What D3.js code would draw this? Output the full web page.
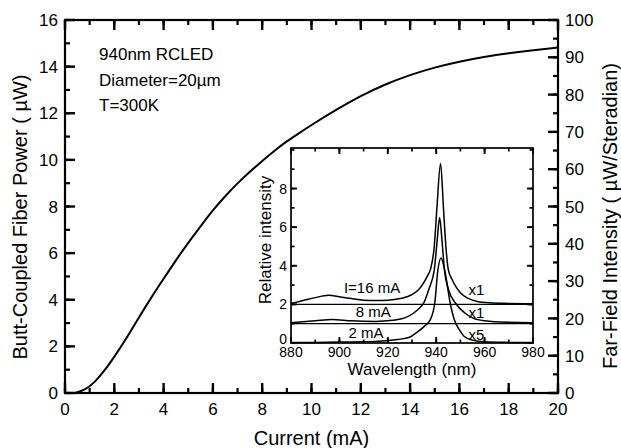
<!DOCTYPE html>
<html>
<head>
<meta charset="utf-8">
<script src="https://cdn.jsdelivr.net/npm/d3@7/dist/d3.min.js"></script>
<style>
  html, body { margin: 0; padding: 0; background: #fff; }
  svg text { font-family: "Liberation Sans", Arial, sans-serif; fill: #000; }
</style>
</head>
<body>
<svg id="chart" width="621" height="448"></svg>
<script>
// ---------- Data ----------
const currentMA = [0.4, 0.8, 1.2, 1.6, 2, 2.5, 3, 3.5, 4, 4.5, 5, 5.5, 6, 6.5, 7, 7.5, 8, 8.5, 9, 9.5, 10, 11, 12, 13, 14, 15, 16, 17, 18, 19, 20];
const powerUW   = [0, 0.12, 0.45, 0.95, 1.55, 2.35, 3.25, 4.1, 4.9, 5.7, 6.45, 7.15, 7.85, 8.45, 9.0, 9.5, 9.95, 10.4, 10.8, 11.15, 11.5, 12.15, 12.75, 13.25, 13.65, 13.97, 14.22, 14.42, 14.58, 14.71, 14.82];

const xTicks = [0, 2, 4, 6, 8, 10, 12, 14, 16, 18, 20];
const yLeftTicks = [0, 2, 4, 6, 8, 10, 12, 14, 16];
const yRightTicks = [0, 10, 20, 30, 40, 50, 60, 70, 80, 90, 100];

// Inset spectra (relative intensity, offset baselines included)
const wl16 = [880, 885, 890, 895.5, 900, 905, 910, 915, 920, 925, 930, 933, 935, 936.5, 937.6, 939.2, 940.3, 941.8, 943, 944, 945, 946.5, 948, 950, 953, 957, 962, 970, 980];
const v16  = [2.05, 2.2, 2.35, 2.47, 2.4, 2.3, 2.22, 2.2, 2.22, 2.3, 2.5, 2.8, 3.15, 3.5, 3.8, 5.0, 7.0, 9.3, 7.0, 5.0, 3.8, 3.3, 2.95, 2.6, 2.32, 2.15, 2.08, 2.05, 2.03];
const wl8  = [880, 890, 897, 905, 915, 922, 927, 930.6, 933, 934.8, 937, 939.2, 940.4, 941.4, 942.4, 943.4, 945, 948, 952, 955, 960, 970, 980];
const v8   = [1.05, 1.15, 1.22, 1.15, 1.12, 1.18, 1.3, 1.54, 1.8, 2.06, 2.8, 3.78, 5.3, 6.5, 5.3, 3.78, 2.8, 2.06, 1.54, 1.3, 1.15, 1.07, 1.05];
const wl2  = [880, 890, 900, 910, 918, 924, 929, 932, 935, 937.5, 939.4, 940.7, 942, 943.5, 945.8, 947.5, 949.5, 951.5, 955, 960, 970, 980];
const v2   = [0.02, 0.03, 0.05, 0.06, 0.1, 0.18, 0.3, 0.55, 0.85, 1.2, 2.06, 3.78, 4.4, 3.78, 2.06, 1.2, 0.7, 0.35, 0.15, 0.06, 0.03, 0.02];
const baselineValues = [2, 1];

const insetXTicks = [880, 900, 920, 940, 960, 980];
const insetYTicks = [0, 2, 4, 6, 8];

const insetLabels = [
  {text: "I=16 mA", wl: 913.5, v: 2.58, anchor: "middle"},
  {text: "8 mA", wl: 914, v: 1.34, anchor: "middle"},
  {text: "2 mA", wl: 911, v: 0.26, anchor: "middle"},
  {text: "x1", wl: 953.3, v: 2.49, anchor: "start"},
  {text: "x1", wl: 953.3, v: 1.3, anchor: "start"},
  {text: "x5", wl: 953.3, v: 0.16, anchor: "start"}
];
const infoLines = ["940nm RCLED", "Diameter=20\u00b5m", "T=300K"];

// ---------- Layout ----------
const svg = d3.select("#chart");
const M = {left: 65, right: 558, top: 20, bottom: 393};

const x = d3.scaleLinear().domain([0, 20]).range([M.left, M.right]);
const y = d3.scaleLinear().domain([0, 16]).range([M.bottom, M.top]);
const y2 = d3.scaleLinear().domain([0, 100]).range([M.bottom, M.top]);

// Inward tick marks on all four sides of a box, drawn as line elements
function drawTicks(g, sx, syL, syR, box, xVals, yValsL, yValsR, len, sw) {
  const segs = [];
  xVals.forEach(v => {
    segs.push([sx(v), box.bottom, sx(v), box.bottom - len]);
    segs.push([sx(v), box.top, sx(v), box.top + len]);
  });
  yValsL.forEach(v => segs.push([box.left, syL(v), box.left + len, syL(v)]));
  yValsR.forEach(v => segs.push([box.right, syR(v), box.right - len, syR(v)]));
  g.append("g").selectAll("line").data(segs).join("line")
    .attr("x1", d => d[0]).attr("y1", d => d[1]).attr("x2", d => d[2]).attr("y2", d => d[3])
    .attr("stroke", "#000").attr("stroke-width", sw);
}

const gAx = svg.append("g");
drawTicks(gAx, x, y, y2, M, d3.range(0, 20.01, 1), d3.range(0, 16.01, 1), d3.range(0, 100.01, 5), 5, 2.2);
drawTicks(gAx, x, y, y2, M, xTicks, yLeftTicks, yRightTicks, 10, 2.4);
gAx.append("rect").attr("x", M.left).attr("y", M.top)
  .attr("width", M.right - M.left).attr("height", M.bottom - M.top)
  .attr("fill", "none").attr("stroke", "#000").attr("stroke-width", 2.2);

// tick labels
gAx.append("g").selectAll("text").data(xTicks).join("text")
  .attr("x", d => x(d)).attr("y", M.bottom + 22)
  .attr("text-anchor", "middle").attr("font-size", 17).text(d => d);
gAx.append("g").selectAll("text").data(yLeftTicks).join("text")
  .attr("x", M.left - 7).attr("y", d => y(d)).attr("dy", "0.36em")
  .attr("text-anchor", "end").attr("font-size", 17).text(d => d);
gAx.append("g").selectAll("text").data(yRightTicks).join("text")
  .attr("x", M.right + 7).attr("y", d => y2(d)).attr("dy", "0.36em")
  .attr("text-anchor", "start").attr("font-size", 17).text(d => d);

// main curve
const mainData = currentMA.map((c, i) => [c, powerUW[i]]);
svg.append("path").datum(mainData)
  .attr("fill", "none").attr("stroke", "#000").attr("stroke-width", 2)
  .attr("d", d3.line().x(d => x(d[0])).y(d => y(d[1])).curve(d3.curveBasis));

// axis titles
svg.append("text").attr("x", (M.left + M.right) / 2).attr("y", 445)
  .attr("text-anchor", "middle").attr("font-size", 20).text("Current (mA)");
svg.append("text").attr("transform", `translate(20,217) rotate(-90)`)
  .attr("text-anchor", "middle").attr("dominant-baseline", "central").attr("font-size", 20)
  .text("Butt-Coupled Fiber Power ( \u00b5W)");
svg.append("text").attr("transform", `translate(610,216) rotate(-90)`)
  .attr("text-anchor", "middle").attr("dominant-baseline", "central").attr("font-size", 20)
  .text("Far-Field Intensity ( \u00b5W/Steradian)");

// info text
svg.append("g").selectAll("text").data(infoLines).join("text")
  .attr("x", x(1.38)).attr("y", (d, i) => y(14.29) + i * 25.8)
  .attr("font-size", 17).text(d => d);

// ---------- Inset ----------
const I = {left: 291, right: 533, top: 148, bottom: 343};
const ix = d3.scaleLinear().domain([880, 980]).range([I.left, I.right]);
const iy = d3.scaleLinear().domain([0, 10.1]).range([I.bottom, I.top]);

const gIn = svg.append("g");
gIn.append("rect").attr("x", I.left).attr("y", I.top)
  .attr("width", I.right - I.left).attr("height", I.bottom - I.top)
  .attr("fill", "#fff").attr("stroke", "none");

drawTicks(gIn, ix, iy, iy, I, d3.range(880, 980.01, 10), d3.range(0, 10.01, 1), d3.range(0, 10.01, 1), 3.5, 1.7);
drawTicks(gIn, ix, iy, iy, I, insetXTicks, insetYTicks, insetYTicks, 6, 1.9);
gIn.append("rect").attr("x", I.left).attr("y", I.top)
  .attr("width", I.right - I.left).attr("height", I.bottom - I.top)
  .attr("fill", "none").attr("stroke", "#000").attr("stroke-width", 1.7);

gIn.append("g").selectAll("text").data(insetXTicks).join("text")
  .attr("x", d => ix(d)).attr("y", I.bottom + 14)
  .attr("text-anchor", "middle").attr("font-size", 14).text(d => d);
gIn.append("g").selectAll("text").data(insetYTicks).join("text")
  .attr("x", I.left - 4).attr("y", d => iy(d)).attr("dy", d => d === 0 ? "0.1em" : "0.36em")
  .attr("text-anchor", "end").attr("font-size", 14).text(d => d);

// baselines
gIn.append("g").selectAll("line").data(baselineValues).join("line")
  .attr("x1", ix(880)).attr("x2", ix(980))
  .attr("y1", d => iy(d)).attr("y2", d => iy(d))
  .attr("stroke", "#000").attr("stroke-width", 1.3);

const ispec = [[wl16, v16], [wl8, v8], [wl2, v2]];
const iline = d3.line().x(d => ix(d[0])).y(d => iy(d[1])).curve(d3.curveMonotoneX);
gIn.append("g").selectAll("path").data(ispec).join("path")
  .attr("fill", "none").attr("stroke", "#000").attr("stroke-width", 1.5)
  .attr("d", s => iline(s[0].map((w, i) => [w, s[1][i]])));

gIn.append("g").selectAll("text").data(insetLabels).join("text")
  .attr("x", d => ix(d.wl)).attr("y", d => iy(d.v))
  .attr("text-anchor", d => d.anchor).attr("font-size", 15).text(d => d.text);

gIn.append("text").attr("x", (I.left + I.right) / 2).attr("y", 375)
  .attr("text-anchor", "middle").attr("font-size", 17).text("Wavelength (nm)");
gIn.append("text").attr("transform", `translate(265,240) rotate(-90)`)
  .attr("text-anchor", "middle").attr("dominant-baseline", "central").attr("font-size", 17)
  .text("Relative intensity");
</script>
</body>
</html>
